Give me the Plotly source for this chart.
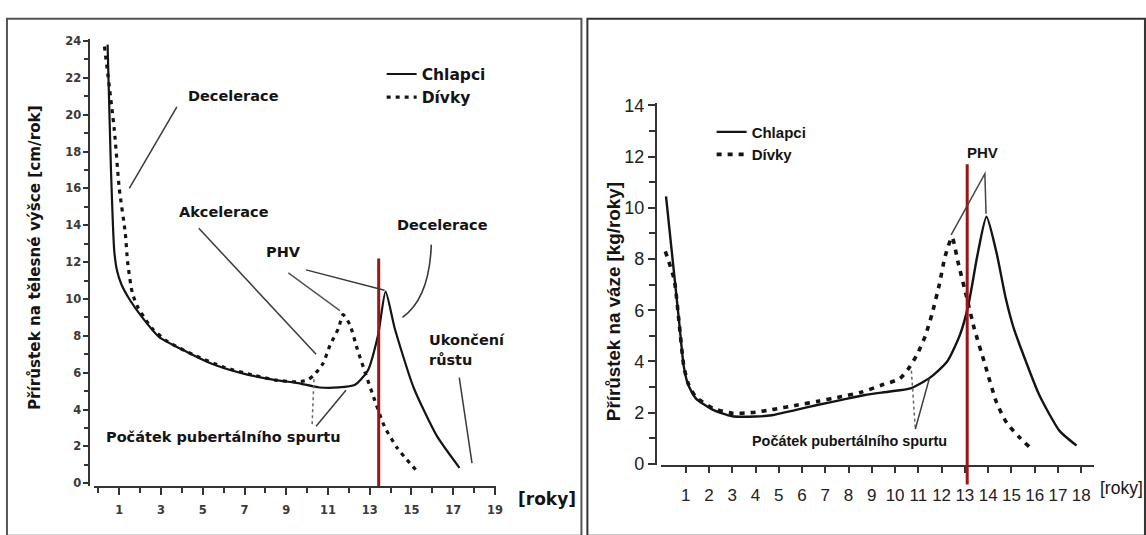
import plotly.graph_objects as go

W, H = 1146, 535

# ---- Height velocity (cm/rok) ----
h_age_boys = [0.44, 0.6, 0.76, 0.9, 1.1, 1.48, 2.1, 2.9, 4.2, 5.4, 6.95, 8.5, 9.5,
              10.6, 11.5, 12.3, 12.9, 13.4, 13.76, 14.2, 15.1, 16.2, 17.3]
h_vel_boys = [23.8, 17.1, 12.6, 11.5, 10.8, 10.0, 9.0, 7.95, 7.15, 6.5, 5.95, 5.6, 5.45,
              5.2, 5.2, 5.35, 6.1, 8.05, 10.4, 8.4, 5.2, 2.6, 0.84]

h_age_girls = [0.29, 0.76, 1.0, 1.29, 1.4, 1.63, 1.87, 2.19, 2.59, 3.3, 4.5, 6.0, 7.5,
               8.5, 9.5, 10.0, 10.3, 10.76, 11.1, 11.5, 11.72, 12.05, 12.4, 12.8,
               13.24, 13.7, 14.33, 15.2]
h_vel_girls = [23.7, 19.2, 16.0, 13.56, 12.0, 10.3, 9.6, 9.0, 8.38, 7.7, 7.0, 6.3, 5.85,
               5.6, 5.5, 5.6, 5.84, 6.5, 7.5, 8.4, 9.15, 8.6, 7.3, 5.95,
               4.5, 3.1, 1.9, 0.74]

# ---- Weight velocity (kg/roky) ----
w_age_boys = [0.15, 0.45, 0.72, 0.91, 1.1, 1.43, 2.15, 3.0, 4.0, 4.7, 5.7, 6.7, 7.7,
              8.7, 9.7, 10.66, 11.5, 12.24, 12.8, 13.15, 13.55, 13.93, 14.36, 14.75,
              15.1, 15.5, 16.2, 17.07, 17.8]
w_vel_boys = [10.45, 7.84, 5.5, 3.83, 3.1, 2.56, 2.12, 1.86, 1.85, 1.9, 2.1, 2.31, 2.5,
              2.69, 2.82, 2.95, 3.37, 4.0, 5.07, 6.2, 8.2, 9.65, 8.25, 6.5,
              5.3, 4.3, 2.69, 1.29, 0.72]

w_age_girls = [0.12, 0.5, 0.72, 0.91, 1.1, 1.43, 2.15, 3.0, 4.0, 4.7, 5.7, 6.7,
               7.7, 8.55, 9.4, 10.2, 10.6, 10.95, 11.3, 11.6, 11.9, 12.15, 12.45, 12.7,
               13.08, 13.4, 13.86, 14.36, 14.8, 15.3, 15.8]
w_vel_girls = [8.3, 7.2, 5.45, 3.85, 3.15, 2.62, 2.18, 1.98, 2.02, 2.12, 2.28, 2.45,
               2.63, 2.8, 3.07, 3.33, 3.75, 4.28, 5.0, 5.9, 7.0, 8.1, 8.85, 7.9,
               6.5, 5.3, 3.9, 2.4, 1.6, 1.08, 0.64]

# reference age line (red) and its top value on each chart
h_mark_age, h_mark_top = 13.43, 12.2
w_mark_age, w_mark_top, w_mark_bottom = 13.1, 11.7, -0.8

# ticks
h_xticks = [1, 3, 5, 7, 9, 11, 13, 15, 17, 19]
h_yticks = [0, 2, 4, 6, 8, 10, 12, 14, 16, 18, 20, 22, 24]
w_xticks = list(range(1, 19))
w_yticks = [0, 2, 4, 6, 8, 10, 12, 14]

# axis ranges
h_xr, h_yr = [-0.2, 19.05], [-0.16, 24.1]
w_xr, w_yr = [-0.07, 18.55], [-0.05, 14.1]


def fx(p):
    return p / W


def fy(p):
    return 1 - p / H


WIDE = "DejaVu Sans"
SANS = "Liberation Sans, Arial"
INK = "#141414"
LEAD = "#3a3a3a"
RED = "#9c1414"

fig = go.Figure()

fig.add_trace(go.Scatter(x=h_age_boys, y=h_vel_boys, xaxis="x", yaxis="y", mode="lines",
                         name="Chlapci", legend="legend",
                         line=dict(color=INK, width=2.2, shape="spline", smoothing=0.6)))
fig.add_trace(go.Scatter(x=h_age_girls, y=h_vel_girls, xaxis="x", yaxis="y", mode="lines",
                         name="Dívky", legend="legend",
                         line=dict(color=INK, width=3.2, dash="4px,5px", shape="spline", smoothing=0.6)))
fig.add_trace(go.Scatter(x=w_age_boys, y=w_vel_boys, xaxis="x2", yaxis="y2", mode="lines",
                         name="Chlapci", legend="legend2",
                         line=dict(color=INK, width=2.4, shape="spline", smoothing=0.6)))
fig.add_trace(go.Scatter(x=w_age_girls, y=w_vel_girls, xaxis="x2", yaxis="y2", mode="lines",
                         name="Dívky", legend="legend2",
                         line=dict(color=INK, width=3.6, dash="5px,6px", shape="spline", smoothing=0.6)))

shapes = []
# panel frames
shapes.append(dict(type="rect", xref="paper", yref="paper", x0=fx(7), x1=fx(585),
                   y0=fy(545), y1=fy(12), line=dict(color="#555", width=2)))
shapes.append(dict(type="rect", xref="paper", yref="paper", x0=fx(591), x1=fx(1152),
                   y0=fy(545), y1=fy(12), line=dict(color="#333", width=2)))

# red age markers
shapes.append(dict(type="line", xref="x", yref="y", x0=h_mark_age, x1=h_mark_age,
                   y0=h_yr[0], y1=h_mark_top, line=dict(color=RED, width=3)))
span = w_yr[1] - w_yr[0]
shapes.append(dict(type="line", xref="x2", yref="y2 domain", x0=w_mark_age, x1=w_mark_age,
                   y0=(w_mark_bottom - w_yr[0]) / span, y1=(w_mark_top - w_yr[0]) / span,
                   line=dict(color=RED, width=3)))


def lead(xref, yref, pts, color=LEAD, width=1.5, dash="solid"):
    path = "M " + " L ".join(f"{a},{b}" for a, b in pts)
    shapes.append(dict(type="path", xref=xref, yref=yref, path=path,
                       line=dict(color=color, width=width, dash=dash)))


# leader lines, height chart
lead("x", "y", [(3.76, 20.42), (1.48, 16.0)])
lead("x", "y", [(4.81, 13.84), (10.43, 7.0)])
lead("x", "y", [(9.10, 11.42), (11.57, 9.37)], color="#555")
lead("x", "y", [(9.95, 11.58), (13.71, 10.47)])
shapes.append(dict(type="path", xref="x", yref="y",
                   path="M 15.95,12.95 Q 15.86,10.05 14.57,9.0",
                   line=dict(color=LEAD, width=1.6)))
lead("x", "y", [(17.29, 5.74), (17.9, 1.1)])
lead("x", "y", [(10.24, 3.21), (10.33, 5.74)], color="#666", dash="dot")
lead("x", "y", [(10.43, 3.1), (11.86, 5.05)])

# leader lines, weight chart
lead("x2", "y2", [(12.41, 8.94), (13.86, 11.33), (13.91, 9.77)], color="#444")
lead("x2", "y2", [(10.70, 3.64), (10.87, 1.36)], color="#666", dash="dot")
lead("x2", "y2", [(10.87, 1.36), (11.47, 3.33)])

annotations = []


def note(xref, yref, x, y, text, family, size, xanchor="center", weight="bold", angle=0):
    annotations.append(dict(xref=xref, yref=yref, x=x, y=y, text=text, showarrow=False,
                            xanchor=xanchor, yanchor="middle", textangle=angle,
                            font=dict(family=family, size=size, color=INK, weight=weight)))


# height chart labels
note("x", "y", 6.48, 21.0, "Decelerace", WIDE, 14.5)
note("x", "y", 6.0, 14.74, "Akcelerace", WIDE, 14.5)
note("x", "y", 8.86, 12.53, "PHV", WIDE, 14.5)
note("x", "y", 16.48, 14.0, "Decelerace", WIDE, 14.5)
note("x", "y", 15.76, 7.79, "Ukončení", WIDE, 14.5, xanchor="left")
note("x", "y", 15.76, 6.68, "růstu", WIDE, 14.5, xanchor="left")
note("x", "y", 6.0, 2.53, "Počátek pubertálního spurtu", WIDE, 14.5)
note("paper", "paper", fx(550), fy(507), "[roky]", WIDE, 17)
note("paper", "paper", fx(36), fy(258), "Přírůstek na tělesné výšce [cm/rok]", WIDE, 15.2, angle=-90)

# weight chart labels
note("x2", "y2", 13.74, 12.16, "PHV", SANS, 15)
note("x2", "y2", 8.05, 0.91, "Počátek pubertálního spurtu", SANS, 14.4)
note("paper", "paper", fx(1105), fy(496), "[roky]", SANS, 17.5, xanchor="left", weight="normal")
note("paper", "paper", fx(618), fy(304), "Přírůstek na váze [kg/roky]", SANS, 18.8, angle=-90)

axis_common = dict(showline=True, linecolor="#333", linewidth=2, showgrid=False,
                   zeroline=False, ticks="outside", tickcolor="#333", tickwidth=1.5)

fig.update_layout(
    width=W, height=H, autosize=False,
    margin=dict(l=0, r=0, t=0, b=0),
    paper_bgcolor="white", plot_bgcolor="white",
    xaxis=dict(domain=[fx(94.8), fx(499.05)], range=h_xr, anchor="y",
               tickvals=h_xticks, ticklen=7, tickangle=0, ticklabelstandoff=5,
               minor=dict(dtick=1, tick0=0, ticks="outside", ticklen=5, tickcolor="#333"),
               tickfont=dict(family=WIDE, size=11.5, color="#3a3a3a", weight="bold"),
               **axis_common),
    yaxis=dict(domain=[fy(494.04), fy(33.1)], range=h_yr, anchor="free", position=fx(90),
               tickvals=h_yticks, ticklen=5,
               minor=dict(dtick=1, tick0=0, ticks="outside", ticklen=4, tickcolor="#333"),
               tickfont=dict(family=WIDE, size=11.5, color="#3a3a3a", weight="bold"),
               **axis_common),
    xaxis2=dict(domain=[fx(664.96), fx(1100.67)], range=w_xr, anchor="y2",
                tickvals=w_xticks, ticklen=6, tickangle=0, ticklabelstandoff=7,
                tickfont=dict(family=SANS, size=17, color="#222"),
                **axis_common),
    yaxis2=dict(domain=[fy(472.32), fy(98.76)], range=w_yr, anchor="free", position=fx(660),
                tickvals=w_yticks, ticklen=7,
                minor=dict(dtick=1, tick0=0, ticks="outside", ticklen=6, tickcolor="#333"),
                tickfont=dict(family=SANS, size=18, color="#222"),
                **axis_common),
    legend=dict(x=fx(384), y=fy(52), xanchor="left", yanchor="top", bgcolor="rgba(0,0,0,0)",
                itemwidth=30, tracegroupgap=0,
                font=dict(family=WIDE, size=15.5, color=INK, weight="bold")),
    legend2=dict(x=fx(716), y=fy(112), xanchor="left", yanchor="top", bgcolor="rgba(0,0,0,0)",
                 itemwidth=30, tracegroupgap=0,
                 font=dict(family=SANS, size=15, color=INK, weight="bold")),
    shapes=shapes,
    annotations=annotations,
)

fig.write_html("out.html")
